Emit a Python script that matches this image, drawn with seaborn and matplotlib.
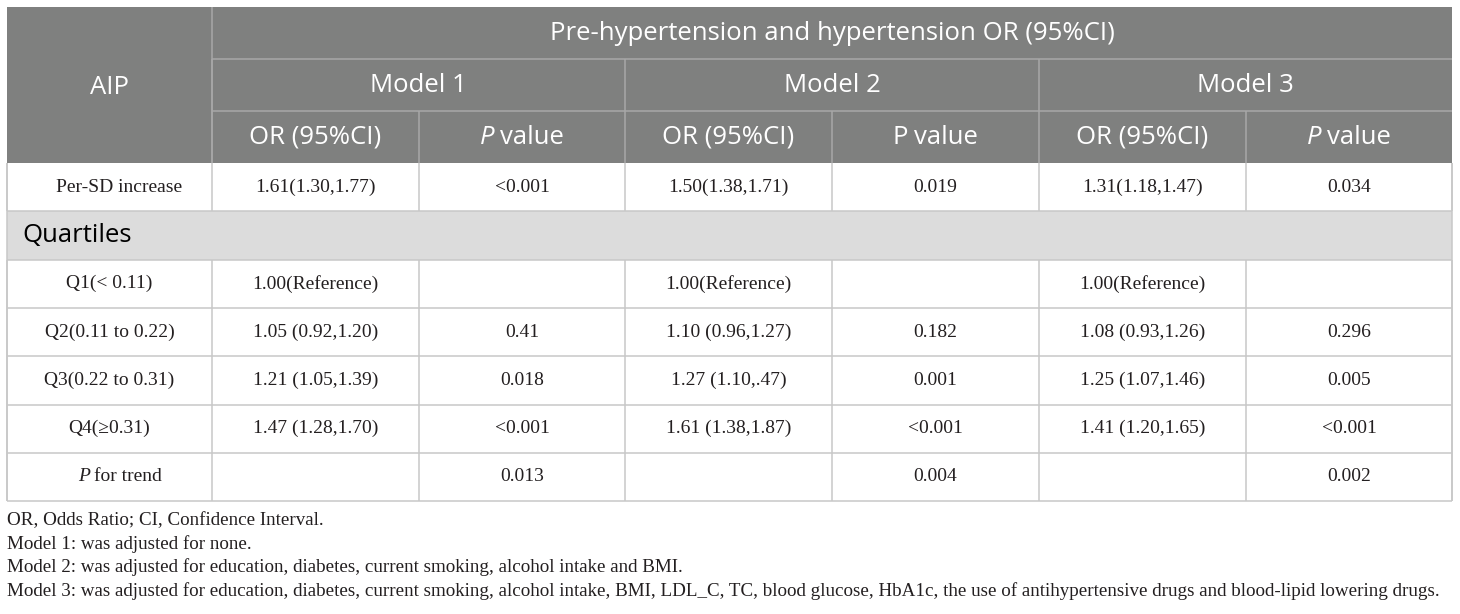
import matplotlib
matplotlib.use("Agg")
import matplotlib.pyplot as plt
import seaborn as sns
from matplotlib.patches import Rectangle

# table content
title = "Pre-hypertension and hypertension OR (95%CI)"
first_col = "AIP"
models = ["Model 1", "Model 2", "Model 3"]
row_labels = ["Per-SD increase", "Q1(< 0.11)", "Q2(0.11 to 0.22)",
              "Q3(0.22 to 0.31)", "Q4(≥0.31)", "P for trend"]
section_label = "Quartiles"

or_m1 = ["1.61(1.30,1.77)", "1.00(Reference)", "1.05 (0.92,1.20)",
         "1.21 (1.05,1.39)", "1.47 (1.28,1.70)", ""]
p_m1 = ["<0.001", "", "0.41", "0.018", "<0.001", "0.013"]
or_m2 = ["1.50(1.38,1.71)", "1.00(Reference)", "1.10 (0.96,1.27)",
         "1.27 (1.10,.47)", "1.61 (1.38,1.87)", ""]
p_m2 = ["0.019", "", "0.182", "0.001", "<0.001", "0.004"]
or_m3 = ["1.31(1.18,1.47)", "1.00(Reference)", "1.08 (0.93,1.26)",
         "1.25 (1.07,1.46)", "1.41 (1.20,1.65)", ""]
p_m3 = ["0.034", "", "0.296", "0.005", "<0.001", "0.002"]
p_italic = [True, False, True]

footnotes = [
    "OR, Odds Ratio; CI, Confidence Interval.",
    "Model 1: was adjusted for none.",
    "Model 2: was adjusted for education, diabetes, current smoking, alcohol intake and BMI.",
    "Model 3: was adjusted for education, diabetes, current smoking, alcohol intake, BMI, LDL_C, TC, "
    "blood glucose, HbA1c, the use of antihypertensive drugs and blood-lipid lowering drugs.",
]

sns.set_theme(style="white")
SANS = "Open Sans"
SERIF = "Liberation Serif"
plt.rcParams["font.family"] = [SERIF, "DejaVu Sans"]

HEAD_BG = "#7f807f"
HEAD_LINE = "#a8a8a8"
SECTION_BG = "#dcdcdc"
GRID = "#c8c8c8"
INK = "#231f20"

# layout in pixels
col_x = [7, 212, 419, 625, 832, 1039, 1246, 1452]
head_y = [7, 59, 111, 163]
body_h = 48.3
HEAD_FS = 18.5
BODY_FS = 14
NOTE_FS = 13.65

fig = plt.figure(figsize=(14.6, 6.14), dpi=100)
ax = fig.add_axes([0, 0, 1, 1])
ax.set_xlim(0, 1460)
ax.set_ylim(614, 0)
ax.axis("off")
renderer = fig.canvas.get_renderer()


def mixed_text(x, y, parts, size, color, ha="center", gap=5):
    # parts: list of (text, family, style)
    texts = []
    for s, fam, st in parts:
        t = ax.text(0, y, s, fontsize=size, family=fam, style=st, color=color,
                    ha="left", va="center")
        texts.append(t)
    widths = [t.get_window_extent(renderer).width for t in texts]
    total = sum(widths) + gap * (len(texts) - 1)
    start = x - total / 2 if ha == "center" else x
    for t, w in zip(texts, widths):
        t.set_x(start)
        start += w + gap


def hline(y, x0, x1, color):
    ax.plot([x0, x1], [y, y], color=color, lw=1.1, solid_capstyle="butt")


def vline(x, y0, y1, color):
    ax.plot([x, x], [y0, y1], color=color, lw=1.1, solid_capstyle="butt")


# header block
ax.add_patch(Rectangle((col_x[0], head_y[0]), col_x[-1] - col_x[0],
                       head_y[-1] - head_y[0], facecolor=HEAD_BG, edgecolor="none"))
hline(head_y[1], col_x[1], col_x[-1], HEAD_LINE)
hline(head_y[2], col_x[1], col_x[-1], HEAD_LINE)
vline(col_x[1], head_y[0], head_y[3], HEAD_LINE)
for k in range(3):
    vline(col_x[1 + 2 * k], head_y[1], head_y[3], HEAD_LINE)
    vline(col_x[2 + 2 * k], head_y[2], head_y[3], HEAD_LINE)

ax.text((col_x[0] + col_x[1]) / 2, (head_y[0] + head_y[3]) / 2 + 2, first_col,
        fontsize=HEAD_FS, family=SANS, color="white", ha="center", va="center")
ax.text((col_x[1] + col_x[-1]) / 2, (head_y[0] + head_y[1]) / 2, title,
        fontsize=HEAD_FS, family=SANS, color="white", ha="center", va="center")
for k, m in enumerate(models):
    xa, xb, xc = col_x[1 + 2 * k], col_x[2 + 2 * k], col_x[3 + 2 * k]
    ax.text((xa + xc) / 2, (head_y[1] + head_y[2]) / 2, m, fontsize=HEAD_FS,
            family=SANS, color="white", ha="center", va="center")
    yc = (head_y[2] + head_y[3]) / 2
    ax.text((xa + xb) / 2, yc, "OR (95%CI)", fontsize=HEAD_FS, family=SANS,
            color="white", ha="center", va="center")
    mixed_text((xb + xc) / 2, yc,
               [("P", SANS, "italic" if p_italic[k] else "normal"),
                ("value", SANS, "normal")], HEAD_FS, "white", gap=6)

# body rows
columns = [or_m1, p_m1, or_m2, p_m2, or_m3, p_m3]
rows = [("data", 0), ("section", None)] + [("data", i) for i in range(1, len(row_labels))]
y = head_y[3]
for kind, i in rows:
    y0, y1 = y, y + body_h
    yc = (y0 + y1) / 2
    if kind == "section":
        ax.add_patch(Rectangle((col_x[0], y0), col_x[-1] - col_x[0], body_h,
                               facecolor=SECTION_BG, edgecolor="none"))
        ax.text(col_x[0] + 15, yc, section_label, fontsize=HEAD_FS, family=SANS,
                color="black", ha="left", va="center")
    else:
        for x in col_x:
            vline(x, y0, y1, GRID)
        label = row_labels[i]
        xc = (col_x[0] + col_x[1]) / 2
        if label.startswith("P for"):
            mixed_text(xc + 10, yc, [("P", SERIF, "italic"), ("for trend", SERIF, "normal")],
                       BODY_FS, INK, gap=4)
        else:
            shift = 10 if label.startswith("Per") else 0
            ax.text(xc + shift, yc, label, fontsize=BODY_FS, family=SERIF, color=INK,
                    ha="center", va="center")
        for j, col in enumerate(columns):
            ax.text((col_x[j + 1] + col_x[j + 2]) / 2, yc, col[i], fontsize=BODY_FS,
                    family=SERIF, color=INK, ha="center", va="center")
    hline(y1, col_x[0], col_x[-1], GRID)
    y = y1
vline(col_x[0], head_y[3], y, GRID)
vline(col_x[-1], head_y[3], y, GRID)

# footnotes
for n, note in enumerate(footnotes):
    ax.text(col_x[0], y + 19 + n * 23.5, note, fontsize=NOTE_FS, family=SERIF,
            color=INK, ha="left", va="center")

fig.savefig("out.png", dpi=100)
